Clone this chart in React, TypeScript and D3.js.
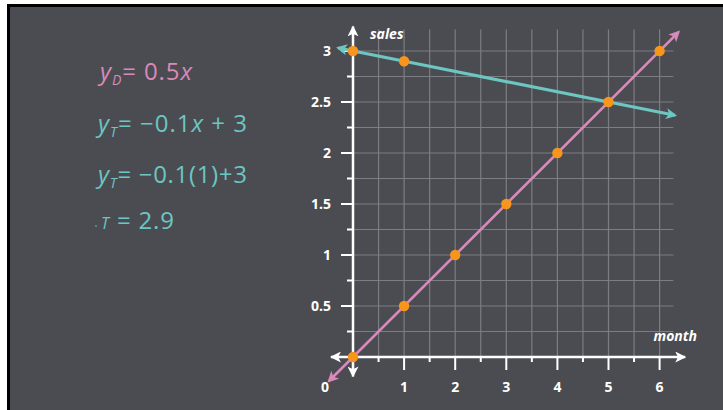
import React from "react";
import * as d3 from "d3";

// ---- data ----
const xTickLabels = ["1", "2", "3", "4", "5", "6"];
const xTickValues = [1, 2, 3, 4, 5, 6];
const yTickValues = [0.5, 1, 1.5, 2, 2.5, 3];
const yTickLabels = ["0.5", "1", "1.5", "2", "2.5", "3"];
const demandLine: [number, number][] = [[-0.47, -0.235], [6.37, 3.185]];
const teaLine: [number, number][] = [[-0.29, 3.029], [6.3, 2.37]];
const pointsX = [0, 1, 5, 0, 1, 2, 3, 4, 6];
const pointsY = [3, 2.9, 2.5, 0, 0.5, 1, 1.5, 2, 3];

const W = 723, H = 410;
const BG = "#4b4c51";
const GRID = "#7c7d82";
const TEAL = "#6cc6c2";
const PINK = "#d88abb";
const ORANGE = "#f7951d";

export default function App() {
  const x = d3.scaleLinear().domain([0, 6]).range([353, 659.6]);
  const y = d3.scaleLinear().domain([0, 3]).range([357, 51]);
  const line = d3.line<[number, number]>().x(d => x(d[0])).y(d => y(d[1]));

  const vGrid = d3.range(1, 13).map(i => i * 0.5);
  const hGrid = d3.range(1, 13).map(i => i * 0.25);
  const xTicks = d3.range(1, 13).map(i => i * 0.5);
  const yTicks = d3.range(1, 13).map(i => i * 0.25);

  const eqFont = "'Open Sans', 'Noto Sans', sans-serif";
  const lblFont = "'Open Sans', 'Noto Sans', sans-serif";

  return (
    <svg width={W} height={H} style={{ position: "fixed", left: 0, top: 0, background: "#fff" }}>
      <defs>
        <marker id="arW" viewBox="0 0 10 10" refX="9" refY="5" markerWidth="11" markerHeight="11" markerUnits="userSpaceOnUse" orient="auto-start-reverse">
          <path d="M0,0 L10,5 L0,10 L2.5,5 Z" fill="#fff" />
        </marker>
        <marker id="arP" viewBox="0 0 10 10" refX="8" refY="5" markerWidth="12" markerHeight="11" markerUnits="userSpaceOnUse" orient="auto-start-reverse">
          <path d="M0,0 L10,5 L0,10 L2.5,5 Z" fill={PINK} />
        </marker>
        <marker id="arT" viewBox="0 0 10 10" refX="8" refY="5" markerWidth="13" markerHeight="11" markerUnits="userSpaceOnUse" orient="auto-start-reverse">
          <path d="M0,0 L10,5 L0,10 L2.5,5 Z" fill={TEAL} />
        </marker>
      </defs>
      <rect x={7} y={4} width={W - 7} height={H - 4} fill="#000" />
      <rect x={10} y={7} width={W - 10} height={H - 7} fill={BG} />

      {/* grid */}
      {vGrid.map(v => (
        <line key={"vg" + v} x1={x(v)} x2={x(v)} y1={y(0)} y2={y(3.21)} stroke={GRID} strokeWidth={1.2} />
      ))}
      {hGrid.map(v => (
        <line key={"hg" + v} x1={x(0)} x2={x(6.27)} y1={y(v)} y2={y(v)} stroke={GRID} strokeWidth={1.2} />
      ))}

      {/* axes */}
      <line x1={x(0)} x2={x(0)} y1={y(-0.19)} y2={y(3.24)} stroke="#fff" strokeWidth={2.5} markerStart="url(#arW)" markerEnd="url(#arW)" />
      <line x1={x(-0.43)} x2={x(6.5)} y1={y(0)} y2={y(0)} stroke="#fff" strokeWidth={2.5} markerStart="url(#arW)" markerEnd="url(#arW)" />
      {xTicks.map(v => (
        <line key={"xt" + v} x1={x(v)} x2={x(v)} y1={y(0)} y2={y(0) + (v % 1 === 0 ? 13 : 5)} stroke="#fff" strokeWidth={2} />
      ))}
      {yTicks.map(v => (
        <line key={"yt" + v} x1={x(0)} x2={x(0) - (v % 0.5 === 0 ? 12 : 6)} y1={y(v)} y2={y(v)} stroke="#fff" strokeWidth={2} />
      ))}
      {xTickValues.map((v, i) => (
        <text key={"xl" + v} x={x(v)} y={387} dy="0.35em" textAnchor="middle" fill="#fff" fontFamily={lblFont} fontWeight={700} fontSize={14}>{xTickLabels[i]}</text>
      ))}
      <text x={325} y={387} dy="0.35em" textAnchor="middle" fill="#fff" fontFamily={lblFont} fontWeight={700} fontSize={14}>0</text>
      {yTickValues.map((v, i) => (
        <text key={"yl" + v} x={331} y={y(v)} dy="0.35em" textAnchor="end" fill="#fff" fontFamily={lblFont} fontWeight={700} fontSize={14}>{yTickLabels[i]}</text>
      ))}
      <text x={370} y={39} fill="#fff" fontFamily={lblFont} fontWeight={700} fontStyle="italic" fontSize={14}>sales</text>
      <text x={697} y={341} textAnchor="end" fill="#fff" fontFamily={lblFont} fontWeight={700} fontStyle="italic" fontSize={14}>month</text>

      {/* lines */}
      <path d={line(teaLine) || ""} stroke={TEAL} strokeWidth={3.2} fill="none" markerStart="url(#arT)" markerEnd="url(#arT)" />
      <path d={line(demandLine) || ""} stroke={PINK} strokeWidth={2.6} fill="none" markerStart="url(#arP)" markerEnd="url(#arP)" />

      {pointsX.map((v, i) => (
        <circle key={"p" + i} cx={x(v)} cy={y(pointsY[i])} r={5.2} fill={ORANGE} />
      ))}

      {/* equations */}
      <g fontFamily={eqFont} fontWeight={400} fontSize={24}>
        <text x={100} y={80} fill={PINK} textLength={92} lengthAdjust="spacing">
          <tspan fontStyle="italic">y</tspan>
          <tspan fontSize={14} dy={5} fontStyle="italic">D</tspan>
          <tspan dy={-5}>= 0.5</tspan>
          <tspan fontStyle="italic">x</tspan>
        </text>
        <text x={98} y={132} fill={TEAL} textLength={149} lengthAdjust="spacing">
          <tspan fontStyle="italic">y</tspan>
          <tspan fontSize={14} dy={5} fontStyle="italic">T</tspan>
          <tspan dy={-5}>= −0.1</tspan>
          <tspan fontStyle="italic">x</tspan>
          <tspan> + 3</tspan>
        </text>
        <text x={98} y={183} fill={TEAL} textLength={149} lengthAdjust="spacing">
          <tspan fontStyle="italic">y</tspan>
          <tspan fontSize={14} dy={5} fontStyle="italic">T</tspan>
          <tspan dy={-5}>= −0.1(1)+3</tspan>
        </text>
        <circle cx={96} cy={226} r={1} fill={TEAL} opacity={0.6} />
        <text x={101} y={229} fill={TEAL} textLength={73} lengthAdjust="spacing">
          <tspan fontSize={16} fontStyle="italic">T</tspan>
          <tspan> = 2.9</tspan>
        </text>
      </g>
    </svg>
  );
}
